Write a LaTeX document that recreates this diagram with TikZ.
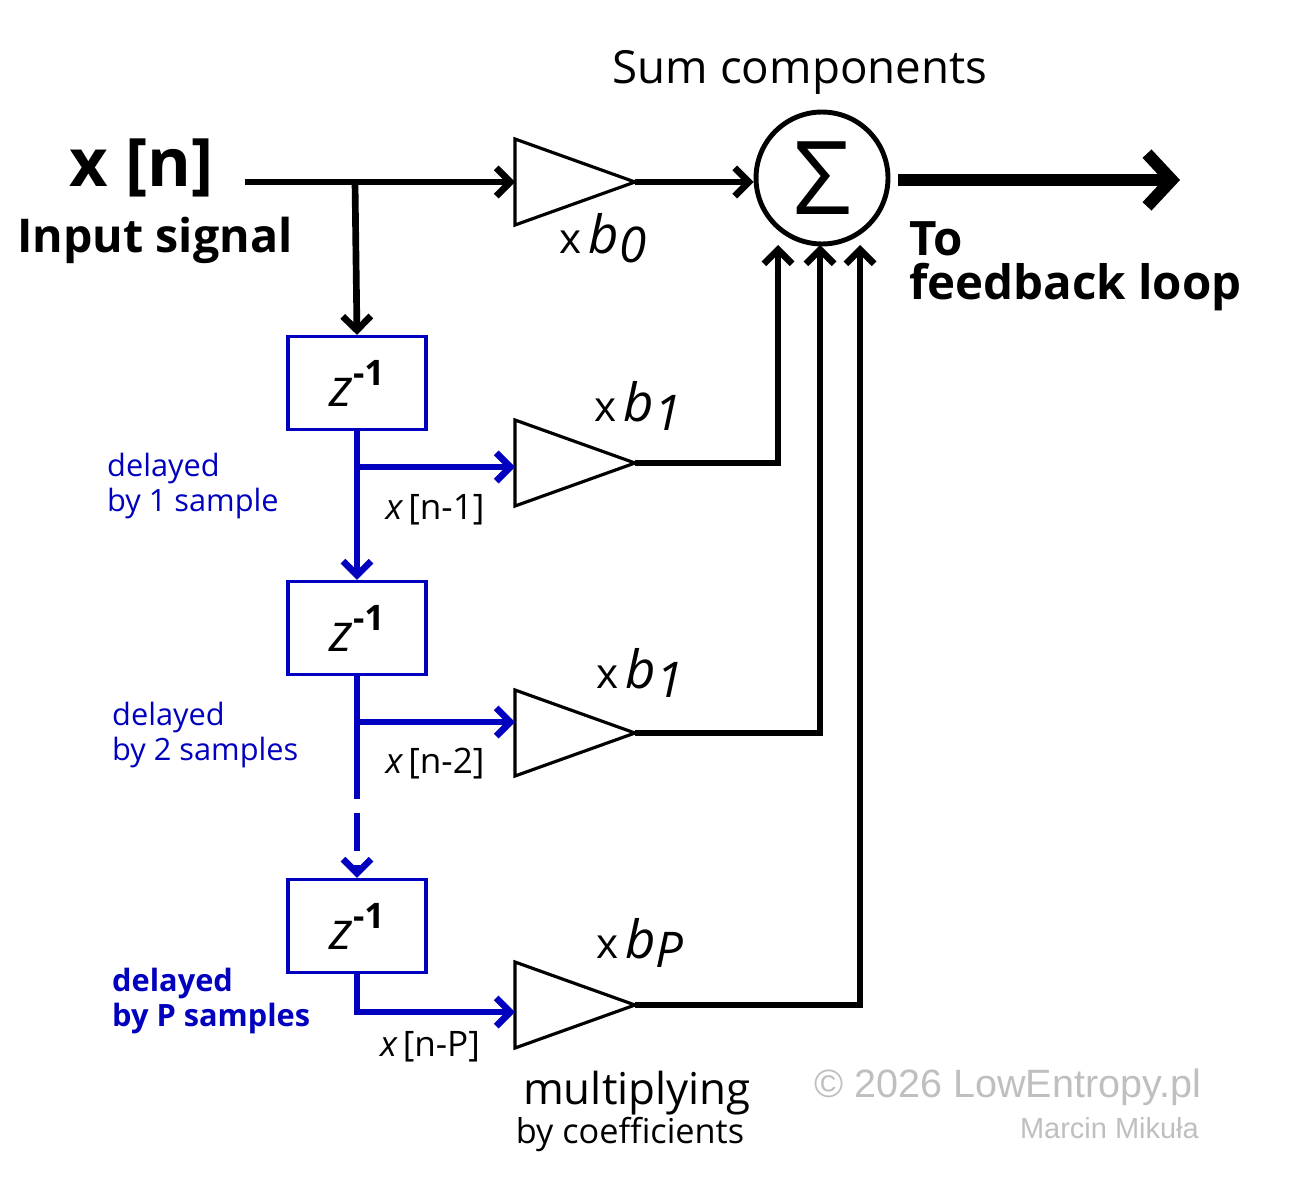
\documentclass[tikz,border=0pt]{standalone}
\usepackage{fontspec}
\setmainfont{Open Sans}
\newfontfamily\credfont{Liberation Sans}
\usetikzlibrary{arrows.meta}
\definecolor{delayblue}{RGB}{0,0,190}
\begin{document}
\begin{tikzpicture}[x=0.02cm,y=-0.02cm,
	sig/.style={line width=3.8pt,-{Straight Barb[length=8pt,width=16pt,line width=3.8pt]}},
	blk/.style={line width=1.8pt,draw,rectangle,minimum width=2.76cm,minimum height=1.86cm,inner sep=0pt},
	amp/.style={line width=1.8pt},
	bl/.style={font=\fontsize{17.5}{20}\selectfont,align=left,anchor=west},
	gain/.style={font=\fontsize{24}{26}\selectfont},
	tap/.style={font=\fontsize{20}{22}\selectfont}]
	\useasboundingbox (0,0) rectangle (1300,1200);
	% input and sum
	\node[font=\fontsize{38}{42}\selectfont\bfseries] (xn) at (142,168) {x [n]};
	\node[font=\fontsize{26.5}{30}\selectfont\bfseries] (insig) at (155,240) {Input signal};
	\coordinate (in) at (245,182);
	\coordinate (tap0) at (355,182);
	\node[draw,circle,line width=2.8pt,minimum size=2.64cm,inner sep=0pt,font=\fontsize{58}{58}\selectfont] (sum) at (822,178) {Σ};
	\node[font=\fontsize{26}{30}\selectfont] (sumlbl) at (800,72) {Sum components};
	\coordinate (out) at (1180,180);
	\node[font=\fontsize{27}{31}\selectfont\bfseries,align=left,anchor=west] (fb) at (903,266) {To\\[-6pt]feedback loop};
	% amplifiers
	\foreach \n/\y in {0/182,1/463,2/733,3/1005} {
		\draw[amp] (515,\y-43) -- (515,\y+43) -- (635,\y) -- cycle;
		\coordinate (a\n) at (515,\y);
		\coordinate (o\n) at (635,\y);
	}
	\node[gain] (g0) at (603,238) {x\,{\fontsize{30}{30}\selectfont\itshape b}\raisebox{-5pt}{\fontsize{28}{28}\selectfont\itshape 0}};
	\node[gain] (g1) at (638,406) {x\,{\fontsize{30}{30}\selectfont\itshape b}\raisebox{-5pt}{\fontsize{28}{28}\selectfont\itshape 1}};
	\node[gain] (g2) at (640,673) {x\,{\fontsize{30}{30}\selectfont\itshape b}\raisebox{-5pt}{\fontsize{28}{28}\selectfont\itshape 1}};
	\node[gain] (g3) at (640,943) {x\,{\fontsize{30}{30}\selectfont\itshape b}\raisebox{-5pt}{\fontsize{28}{28}\selectfont\itshape P}};
	% delay blocks
	\foreach \n/\y in {1/383,2/628,3/926}
		\node[blk,draw=delayblue] (z\n) at (357,\y) {\fontsize{30}{30}\selectfont\itshape z\raisebox{12pt}{\fontsize{20}{20}\selectfont\upshape\bfseries -1}};
	% connectors
	\draw[sig] (in) -- (a0);
	\draw[sig] (tap0) -- (z1.north);
	\draw[sig] (o0) -- (sum.west |- o0);
	\draw[line width=7pt,-{Straight Barb[length=14pt,width=30pt,line width=7pt]}] (sum.east |- out) ++(8,0) -- (out);
	\begin{scope}[delayblue]
		\draw[sig] (z1.south) -- (z2.north);
		\draw[sig] (357,467) -- (a1 |- 0,467);
		\draw[line width=3.8pt] (z2.south) -- (357,760);
		\draw[sig,dash pattern=on 22pt off 8pt] (357,760) -- (z3.north);
		\draw[sig] (357,722) -- (a2 |- 0,722);
		\draw[sig] (z3.south) |- (a3 |- 0,1012);
	\end{scope}
	\draw[sig] (o1) -| (778,245);
	\draw[sig] (o2) -| (820,245);
	\draw[sig] (o3) -| (860,245);
	% labels
	\node[bl,delayblue] (d1) at (101,486) {delayed\\by 1 sample};
	\node[bl,delayblue] (d2) at (106,735) {delayed\\by 2 samples};
	\node[bl,delayblue,font=\fontsize{17.5}{20}\selectfont\bfseries] (d3) at (106,1001) {delayed\\by P samples};
	\node[tap] (x1) at (435,510) {\itshape x\upshape\,[n-1]};
	\node[tap] (x2) at (435,764) {\itshape x\upshape\,[n-2]};
	\node[tap] (x3) at (430,1047) {\itshape x\upshape\,[n-P]};
	\node[font=\fontsize{25}{28}\selectfont] (mul) at (637,1093) {multiplying};
	\node[font=\fontsize{19.5}{22}\selectfont] (coef) at (630,1134) {by coefficients};
	\node[font=\fontsize{22.5}{26}\selectfont\credfont,text=black!25,anchor=east] (copy) at (1207,1087) {© 2026 LowEntropy.pl};
	\node[font=\fontsize{16.5}{19}\selectfont\credfont,text=black!25,anchor=east] (auth) at (1205,1128) {Marcin Mikuła};
\end{tikzpicture}
\end{document}
